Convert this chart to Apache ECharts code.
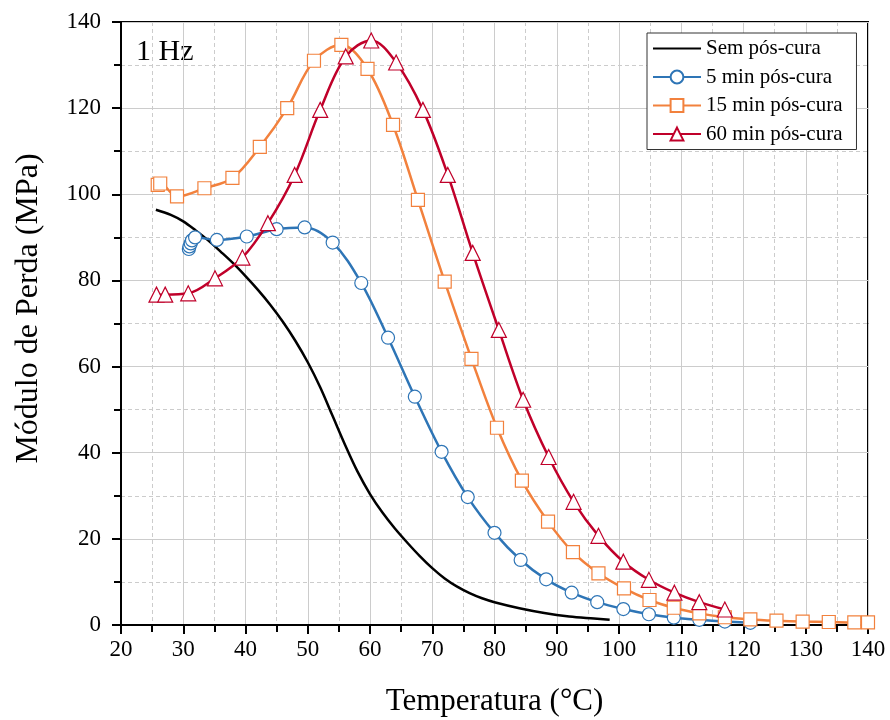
<!DOCTYPE html>
<html>
<head>
<meta charset="utf-8">
<script src="https://cdn.jsdelivr.net/npm/echarts@6/dist/echarts.min.js"></script>
<style>
  html, body { margin: 0; padding: 0; background: #fff; }
  #main { width: 890px; height: 720px; }
</style>
</head>
<body>
<div id="main"></div>
<script>
// Sem pós-cura (linha contínua, sem marcadores)
const semX = [25.6, 28, 30, 32, 34, 36, 38, 40, 42, 44, 46, 48, 50, 52, 54, 56, 58, 60, 62, 64, 66, 68, 70, 72, 74, 76, 78, 80, 84, 88, 92, 96, 98.5]
const semY = [96.4, 95.2, 93.7, 91.6, 89.3, 86.7, 84.0, 81.0, 77.8, 74.3, 70.4, 66.0, 61.0, 55.2, 48.5, 41.8, 35.6, 30.4, 26.1, 22.4, 19.1, 16.0, 13.2, 10.8, 8.9, 7.4, 6.2, 5.3, 3.9, 2.8, 2.0, 1.5, 1.2]

// 5 min pós-cura
const min5X = [30.9, 31.0, 31.2, 31.4, 31.9, 35.4, 40.2, 45.0, 49.5, 54.0, 58.6, 62.9, 67.2, 71.5, 75.7, 80.0, 84.2, 88.3, 92.4, 96.5, 100.7, 104.8, 108.8, 112.9, 117.0, 121.1]
const min5Y = [87.3, 87.9, 88.6, 89.3, 90.0, 89.4, 90.2, 91.9, 92.3, 88.8, 79.4, 66.7, 53.0, 40.2, 29.7, 21.4, 15.1, 10.6, 7.5, 5.3, 3.7, 2.5, 1.7, 1.2, 0.8, 0.5]

// 15 min pós-cura
const min15X = [25.9, 26.3, 29.0, 33.4, 37.9, 42.3, 46.7, 51.0, 55.4, 59.6, 63.7, 67.7, 72.0, 76.3, 80.4, 84.4, 88.6, 92.6, 96.7, 100.8, 104.9, 108.8, 112.9, 117.0, 121.1, 125.3, 129.5, 133.7, 137.8, 140.0]
const min15Y = [102.2, 102.5, 99.5, 101.4, 103.8, 111.0, 120.0, 131.0, 134.7, 129.1, 116.1, 98.7, 79.7, 61.8, 45.8, 33.5, 24.0, 16.9, 12.0, 8.5, 5.8, 4.0, 2.7, 1.8, 1.3, 1.0, 0.8, 0.7, 0.6, 0.6]

// 60 min pós-cura
const min60X = [25.7, 27.1, 30.8, 35.1, 39.5, 43.6, 47.9, 52.0, 56.1, 60.2, 64.2, 68.5, 72.5, 76.5, 80.7, 84.6, 88.7, 92.7, 96.7, 100.7, 104.8, 108.9, 112.9, 117.0]
const min60Y = [76.7, 76.7, 77.0, 80.5, 85.3, 93.3, 104.5, 119.6, 132.0, 135.7, 130.6, 119.6, 104.5, 86.4, 68.5, 52.3, 39.0, 28.6, 20.7, 14.7, 10.5, 7.5, 5.3, 3.6]

const seriesNames = ['Sem pós-cura', '5 min pós-cura', '15 min pós-cura', '60 min pós-cura']
const seriesColors = ['#000000', '#2e75b6', '#f2813d', '#c0002a']

const font = 'Liberation Serif, Times New Roman, serif'

function zip(xs, ys) {
  return xs.map((x, i) => [x, ys[i]])
}

let myChart = echarts.init(document.getElementById('main'))

function lineSeries(name, color, data, symbol, size) {
  const noMark = symbol === 'none'
  return {
    name: name,
    type: 'line',
    data: data,
    smooth: 0.35,
    symbol: noMark ? 'circle' : symbol,
    symbolSize: size,
    showSymbol: !noMark,
    lineStyle: { color: color, width: 2.5 },
    // sem marcador: o ícone da legenda fica invisível, só a linha aparece
    itemStyle: noMark
      ? { color: 'rgba(0,0,0,0)', borderColor: 'rgba(0,0,0,0)', borderWidth: 0 }
      : { color: '#ffffff', borderColor: color, borderWidth: 1.2 },
    emphasis: { disabled: true },
    clip: true
  }
}

const option = {
  animation: false,
  backgroundColor: '#fff',
  grid: {
    left: 121, right: 22, top: 22, bottom: 95,
    outerBoundsMode: 'none',
    show: true, borderColor: '#000', borderWidth: 2
  },
  legend: {
    left: 647, top: 33,
    orient: 'vertical',
    data: seriesNames,
    itemWidth: 48, itemHeight: 16, itemGap: 7.5,
    borderColor: '#333', borderWidth: 1,
    padding: [5, 14, 5, 5],
    backgroundColor: '#fff',
    textStyle: { fontFamily: font, fontSize: 21, color: '#000' }
  },
  xAxis: {
    type: 'value', min: 20, max: 140, interval: 10,
    name: 'Temperatura (°C)', nameLocation: 'middle', nameGap: 61,
    nameTextStyle: { fontFamily: font, fontSize: 31, color: '#000' },
    axisLine: { lineStyle: { color: '#000', width: 2 } },
    axisTick: { inside: false, length: 9, lineStyle: { color: '#000', width: 2 } },
    minorTick: { show: true, splitNumber: 2, length: 7, lineStyle: { color: '#000', width: 2 } },
    axisLabel: { fontFamily: font, fontSize: 23, color: '#000', margin: 13 },
    splitLine: { show: true, lineStyle: { color: '#cccccc', width: 1 } },
    minorSplitLine: { show: true, lineStyle: { color: '#cccccc', width: 1, type: [4, 3] } }
  },
  yAxis: {
    type: 'value', min: 0, max: 140, interval: 20,
    name: 'Módulo de Perda (MPa)', nameLocation: 'middle', nameGap: 76,
    nameTextStyle: { fontFamily: font, fontSize: 32, color: '#000', padding: [0, 0, 0, 30] },
    axisLine: { show: true, lineStyle: { color: '#000', width: 2 } },
    axisTick: { show: true, inside: false, length: 9, lineStyle: { color: '#000', width: 2 } },
    minorTick: { show: true, splitNumber: 2, length: 7, lineStyle: { color: '#000', width: 2 } },
    axisLabel: { fontFamily: font, fontSize: 23, color: '#000', margin: 20 },
    splitLine: { show: true, lineStyle: { color: '#cccccc', width: 1 } },
    minorSplitLine: { show: true, lineStyle: { color: '#cccccc', width: 1, type: [4, 3] } }
  },
  graphic: [{
    type: 'text', left: 136, top: 37,
    style: { text: '1 Hz', fontFamily: font, fontSize: 30, fill: '#000' }
  }],
  series: [
    lineSeries(seriesNames[0], seriesColors[0], zip(semX, semY), 'none', 0),
    lineSeries(seriesNames[1], seriesColors[1], zip(min5X, min5Y), 'circle', 13),
    lineSeries(seriesNames[2], seriesColors[2], zip(min15X, min15Y), 'rect', 13),
    lineSeries(seriesNames[3], seriesColors[3], zip(min60X, min60Y), 'triangle', 15)
  ]
}

myChart.setOption(option)
window.addEventListener('resize', () => myChart.resize())
</script>
</body>
</html>
